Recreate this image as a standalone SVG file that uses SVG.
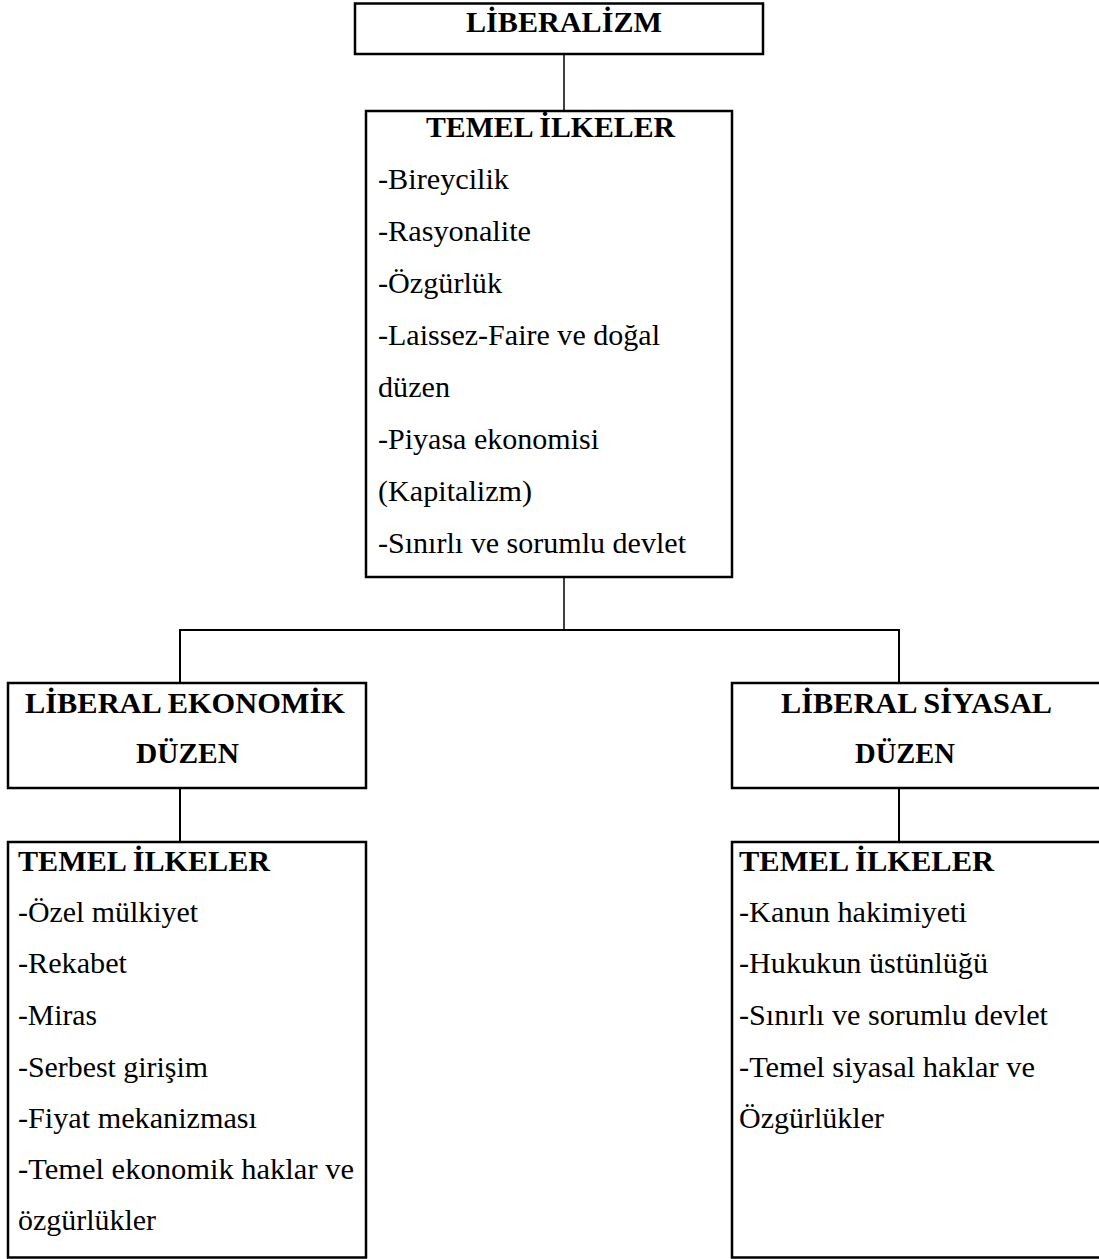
<svg xmlns="http://www.w3.org/2000/svg" width="1099" height="1259" viewBox="0 0 1099 1259">
<style>
.box{fill:#fff;stroke:#000;stroke-width:2.5}
.b{font-family:"Liberation Serif","Times New Roman",serif;font-weight:bold;font-size:29px;fill:#000}
.t{font-family:"Liberation Serif","Times New Roman",serif;font-size:29px;fill:#000}
.c{stroke:#000;fill:none}
</style>
<rect width="1099" height="1259" fill="#fff"/>
<g id="connectors">
<line class="c" x1="564" y1="54" x2="564" y2="111" stroke-width="1.5"/>
<line class="c" x1="564" y1="577" x2="564" y2="630" stroke-width="1.5"/>
<polyline class="c" points="180,683 180,630 899,630 899,683" stroke-width="2"/>
<line class="c" x1="180" y1="788" x2="180" y2="842" stroke-width="2"/>
<line class="c" x1="899" y1="788" x2="899" y2="842" stroke-width="2"/>
</g>
<g id="liberalizm">
<rect class="box" x="355" y="3.5" width="408" height="50.5"/>
<text class="b" x="466" y="32" textLength="196" lengthAdjust="spacingAndGlyphs">LİBERALİZM</text>
</g>
<g id="temel-ilkeler">
<rect class="box" x="366" y="111" width="366" height="466"/>
<text class="b" x="426" y="137" textLength="249" lengthAdjust="spacingAndGlyphs">TEMEL İLKELER</text>
<text class="t" x="378" y="189" textLength="131" lengthAdjust="spacingAndGlyphs">-Bireycilik</text>
<text class="t" x="378" y="241" textLength="153" lengthAdjust="spacingAndGlyphs">-Rasyonalite</text>
<text class="t" x="378" y="293" textLength="124" lengthAdjust="spacingAndGlyphs">-Özgürlük</text>
<text class="t" x="378" y="345" textLength="282" lengthAdjust="spacingAndGlyphs">-Laissez-Faire ve doğal</text>
<text class="t" x="378" y="397" textLength="72" lengthAdjust="spacingAndGlyphs">düzen</text>
<text class="t" x="378" y="449" textLength="221" lengthAdjust="spacingAndGlyphs">-Piyasa ekonomisi</text>
<text class="t" x="378" y="501" textLength="154" lengthAdjust="spacingAndGlyphs">(Kapitalizm)</text>
<text class="t" x="378" y="553" textLength="308" lengthAdjust="spacingAndGlyphs">-Sınırlı ve sorumlu devlet</text>
</g>
<g id="liberal-ekonomik">
<rect class="box" x="8" y="683" width="358" height="105"/>
<text class="b" x="25" y="713" textLength="320" lengthAdjust="spacingAndGlyphs">LİBERAL EKONOMİK</text>
<text class="b" x="136" y="763" textLength="103" lengthAdjust="spacingAndGlyphs">DÜZEN</text>
</g>
<g id="liberal-siyasal">
<rect class="box" x="732" y="683" width="380" height="105"/>
<text class="b" x="781" y="713" textLength="271" lengthAdjust="spacingAndGlyphs">LİBERAL SİYASAL</text>
<text class="b" x="855" y="763" textLength="100" lengthAdjust="spacingAndGlyphs">DÜZEN</text>
</g>
<g id="ekonomik-ilkeler">
<rect class="box" x="8" y="842" width="358" height="415.5"/>
<text class="b" x="18" y="871" textLength="252" lengthAdjust="spacingAndGlyphs">TEMEL İLKELER</text>
<text class="t" x="18" y="922" textLength="180" lengthAdjust="spacingAndGlyphs">-Özel mülkiyet</text>
<text class="t" x="18" y="973" textLength="109" lengthAdjust="spacingAndGlyphs">-Rekabet</text>
<text class="t" x="18" y="1025" textLength="79" lengthAdjust="spacingAndGlyphs">-Miras</text>
<text class="t" x="18" y="1077" textLength="190" lengthAdjust="spacingAndGlyphs">-Serbest girişim</text>
<text class="t" x="18" y="1128" textLength="239" lengthAdjust="spacingAndGlyphs">-Fiyat mekanizması</text>
<text class="t" x="18" y="1179" textLength="336" lengthAdjust="spacingAndGlyphs">-Temel ekonomik haklar ve</text>
<text class="t" x="18" y="1230" textLength="138" lengthAdjust="spacingAndGlyphs">özgürlükler</text>
</g>
<g id="siyasal-ilkeler">
<rect class="box" x="732" y="842" width="380" height="415.5"/>
<text class="b" x="739" y="871" textLength="255" lengthAdjust="spacingAndGlyphs">TEMEL İLKELER</text>
<text class="t" x="739" y="922" textLength="228" lengthAdjust="spacingAndGlyphs">-Kanun hakimiyeti</text>
<text class="t" x="739" y="973" textLength="249" lengthAdjust="spacingAndGlyphs">-Hukukun üstünlüğü</text>
<text class="t" x="739" y="1025" textLength="309" lengthAdjust="spacingAndGlyphs">-Sınırlı ve sorumlu devlet</text>
<text class="t" x="739" y="1077" textLength="296" lengthAdjust="spacingAndGlyphs">-Temel siyasal haklar ve</text>
<text class="t" x="739" y="1128" textLength="145" lengthAdjust="spacingAndGlyphs">Özgürlükler</text>
</g>
</svg>
